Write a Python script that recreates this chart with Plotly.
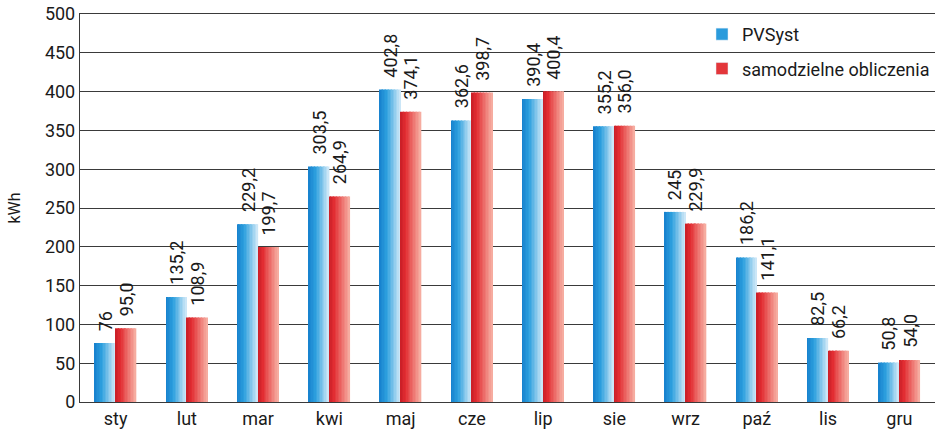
import plotly.graph_objects as go

months = ["sty", "lut", "mar", "kwi", "maj", "cze", "lip", "sie", "wrz", "paź", "lis", "gru"]
pvsyst = [76, 135.2, 229.2, 303.5, 402.8, 362.6, 390.4, 355.2, 245, 186.2, 82.5, 50.8]
own = [95.0, 108.9, 199.7, 264.9, 374.1, 398.7, 400.4, 356.0, 229.9, 141.1, 66.2, 54.0]
pvsyst_labels = ["76", "135,2", "229,2", "303,5", "402,8", "362,6", "390,4", "355,2", "245", "186,2", "82,5", "50,8"]
own_labels = ["95,0", "108,9", "199,7", "264,9", "374,1", "398,7", "400,4", "356,0", "229,9", "141,1", "66,2", "54,0"]
series_names = ["PVSyst", "samodzielne obliczenia"]
y_ticks = [0, 50, 100, 150, 200, 250, 300, 350, 400, 450, 500]

FONT = "Roboto, Noto Sans, sans-serif"
BW = 0.29
N = 14
PX_PER_CAT = 855 / 12

blue_stops = [(0.0, (22, 128, 205)), (0.35, (45, 160, 222)), (1.0, (212, 234, 248))]
red_stops = [(0.0, (200, 30, 38)), (0.25, (226, 45, 50)), (1.0, (247, 178, 166))]


def interp(stops, t):
    for (t0, c0), (t1, c1) in zip(stops[:-1], stops[1:]):
        if t0 <= t <= t1:
            f = (t - t0) / (t1 - t0) if t1 > t0 else 0
            return "rgb(%d,%d,%d)" % tuple(round(a + (b - a) * f) for a, b in zip(c0, c1))
    c = stops[-1][1]
    return "rgb(%d,%d,%d)" % c


fig = go.Figure()
annotations = []

for k, (vals, labels, stops, start, name) in enumerate([
    (pvsyst, pvsyst_labels, blue_stops, -BW, series_names[0]),
    (own, own_labels, red_stops, 0.0, series_names[1]),
]):
    sw = BW / N
    for i in range(N):
        t = (i + 0.5) / N
        fig.add_trace(go.Bar(
            x=months, y=vals, offset=start + i * sw, width=sw * 1.02,
            marker=dict(color=interp(stops, t), line=dict(width=0)),
            showlegend=False, hoverinfo="skip", legendgroup=name,
        ))
    fig.add_trace(go.Bar(
        x=[None], y=[None], name=name, legendgroup=name,
        marker=dict(color=interp(stops, 0.3)),
        showlegend=True,
    ))
    shift = (start + BW / 2) * PX_PER_CAT
    for m, v, lab in zip(months, vals, labels):
        annotations.append(dict(
            x=m, y=v, xref="x", yref="y", text=lab, showarrow=False,
            textangle=-90, xanchor="center", yanchor="bottom",
            xshift=shift, yshift=10,
            font=dict(family=FONT, size=18, color="#1a1a1a"),
        ))

fig.update_layout(
    width=938, height=432,
    margin=dict(l=80, r=3, t=11, b=29),
    barmode="overlay",
    plot_bgcolor="white", paper_bgcolor="white",
    font=dict(family=FONT, size=18, color="#1a1a1a"),
    showlegend=True,
    legend=dict(
        x=1.0, y=0.995, xanchor="right", yanchor="top",
        bgcolor="rgba(0,0,0,0)", font=dict(family=FONT, size=18, color="#1a1a1a"),
        tracegroupgap=8, itemwidth=30, traceorder="grouped",
    ),
    annotations=annotations,
)
fig.update_xaxes(
    type="category", showgrid=False, ticks="", showline=True, mirror=True,
    linecolor="#3a3a3a", linewidth=1.3,
    tickfont=dict(family=FONT, size=18),
)
fig.update_yaxes(
    range=[0, 500], tickmode="array", tickvals=y_ticks,
    showgrid=True, gridcolor="#3a3a3a", gridwidth=1.3,
    zeroline=True, zerolinecolor="#3a3a3a", zerolinewidth=1.3,
    showline=True, linecolor="#3a3a3a", linewidth=1.3, ticks="",
    tickfont=dict(family=FONT, size=18),
    title=dict(text="kWh", font=dict(family=FONT, size=16), standoff=20),
)

fig.write_html("out.html")
